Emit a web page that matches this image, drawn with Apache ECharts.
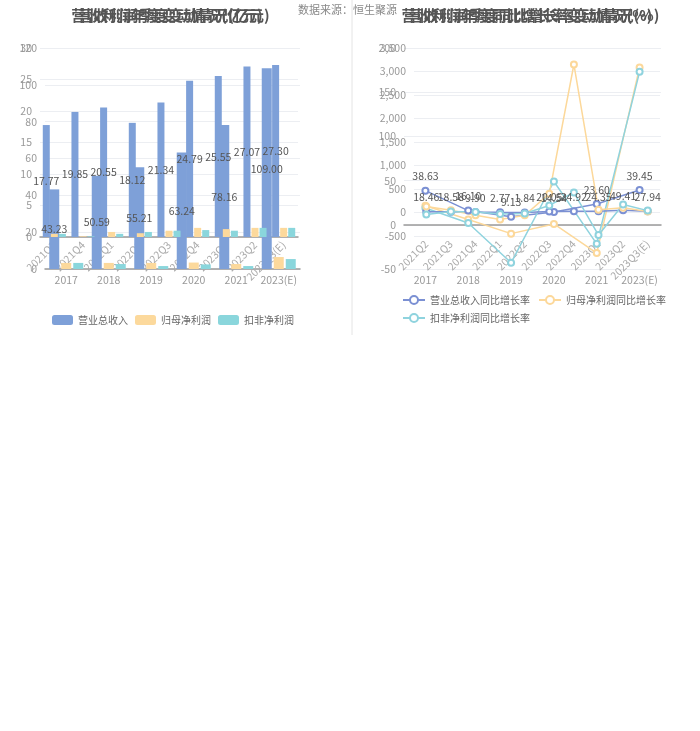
<!DOCTYPE html>
<html><head><meta charset="utf-8">
<script src="https://cdn.jsdelivr.net/npm/echarts@6/dist/echarts.min.js"></script>
<style>html,body{margin:0;padding:0;background:#fff}#c{width:700px;height:731px}</style>
</head><body><div id="c"></div>
<script>
// ---- data ----
const yearCats = ['2017','2018','2019','2020','2021','2023(E)'];
const quarterCats = ['2021Q3','2021Q4','2022Q1','2022Q2','2022Q3','2022Q4','2023Q1','2023Q2','2023Q3(E)'];
const growthQuarterCats = ['2021Q2','2021Q3','2021Q4','2022Q1','2022Q2','2022Q3','2022Q4','2023Q1','2023Q2','2023Q3(E)'];

const yearRevenue = [43.23, 50.59, 55.21, 63.24, 78.16, 109.00];
const yearNetProfit = [3.3, 3.3, 3.3, 3.5, 2.7, 6.5];
const yearDeductProfit = [3.3, 2.7, 1.6, 2.5, 1.6, 5.4];

const quarterRevenue = [17.77, 19.85, 20.55, 18.12, 21.34, 24.79, 25.55, 27.07, 27.30];
const quarterNetProfit = [0.5, 0.1, 0.8, 0.6, 1.0, 1.45, 1.25, 1.45, 1.45];
const quarterDeductProfit = [0.5, 0.1, 0.5, 0.8, 1.0, 1.1, 1.0, 1.45, 1.45];

const yearRevenueGrowth = [38.63, 16.10, 9.13, 14.54, 23.60, 39.45];
const yearNetGrowth = [21.5, 6, -10, 1, -32, 178];
const yearDeductGrowth = [19, 2, -43, 49, -21.5, 173];

const quarterRevenueGrowth = [18.46, 18.58, 9.90, 2.77, 1.84, 20.05, 24.92, 24.35, 49.41, 27.94];
const quarterNetGrowth = [130, 50, -60, -150, -60, 400, 3149, 60, 100, 20];
const quarterDeductGrowth = [-40, 20, 10, -30, -20, 150, 425, -480, 170, 40];

const yTicksYearBar = {min: 0, max: 120, interval: 20};
const yTicksQuarterBar = {min: 0, max: 30, interval: 5};
const yTicksYearLine = {min: -50, max: 200, interval: 50};
const yTicksQuarterLine = {min: -500, max: 3500, interval: 500};

// ---- styles ----
const C_BLUE = '#7ea0d8', C_ORANGE = '#fcd99c', C_TEAL = '#8ad6dc';
const L_BLUE = '#7b90d3', L_ORANGE = '#fcd89a', L_TEAL = '#8fd3de';
const FONT = '"Noto Sans CJK SC", "Noto Sans", sans-serif';
const fmt2 = p => Number(p.value).toFixed(2);
const FS = 10.5;

const chart = echarts.init(document.getElementById('c'), null, {renderer: 'canvas'});

function yAx(gi, t) {
  return {type: 'value', gridIndex: gi, min: t.min, max: t.max, interval: t.interval,
    axisLabel: {color: '#999', fontSize: FS, fontFamily: FONT},
    axisLine: {show: false}, axisTick: {show: false},
    splitLine: {lineStyle: {color: '#eceef2'}}};
}
const axLine = {lineStyle: {color: '#9a9a9a', width: 1.5}};
const titleStyle = {fontSize: 15, fontWeight: 'bold', color: '#555', fontFamily: FONT};

const option = {
  animation: false,
  textStyle: {fontFamily: FONT},
  title: [
    {text: '营收利润年度变动情况(亿元)', left: 162, textAlign: 'center', top: 3, textStyle: titleStyle},
    {text: '营收利润季度变动情况(亿元)', left: 169, textAlign: 'center', top: 3, textStyle: titleStyle},
    {text: '营收利润年度同比增长率变动情况(%)', left: 522, textAlign: 'center', top: 3, textStyle: titleStyle},
    {text: '营收利润季度同比增长率变动情况(%)', left: 529, textAlign: 'center', top: 3, textStyle: titleStyle}
  ],
  graphic: [
    {type: 'line', shape: {x1: 352, y1: 0, x2: 352, y2: 335}, style: {stroke: '#e4e4e4', lineWidth: 1}},
    {type: 'text', left: 298, top: 4, z: -1, style: {text: '数据来源：恒生聚源', fill: '#888', font: '11px "Noto Sans CJK SC"'}}
  ],
  legend: [
    {data: ['营业总收入', '归母净利润', '扣非净利润'], left: 47, top: 310, itemWidth: 21, itemHeight: 10, itemGap: 7,
      textStyle: {color: '#666', fontSize: 10}},
    {data: ['营业总收入同比增长率', '归母净利润同比增长率', '扣非净利润同比增长率'], left: 397, top: 290, width: 270,
      itemWidth: 22, itemHeight: 10, itemGap: 8, textStyle: {color: '#666', fontSize: 10}}
  ],
  grid: [
    {left: 45, right: 400, top: 48, bottom: 462},
    {left: 40, right: 402, top: 48, bottom: 494},
    {left: 404, right: 39, top: 48, bottom: 462},
    {left: 414, right: 40, top: 48, bottom: 495}
  ],
  xAxis: [
    {type: 'category', gridIndex: 0, data: yearCats, axisLine: axLine, axisTick: {alignWithLabel: true, lineStyle: {color: '#9a9a9a'}},
      axisLabel: {color: '#999', fontSize: FS, margin: 6, interval: 0}},
    {type: 'category', gridIndex: 1, data: quarterCats, axisLine: axLine, axisTick: {show: false},
      axisLabel: {color: '#aaa', fontSize: FS, rotate: 45, margin: 6, interval: 0}},
    {type: 'category', gridIndex: 2, data: yearCats, axisLine: {onZero: true, lineStyle: {color: '#9a9a9a', width: 1.5}},
      axisTick: {alignWithLabel: true, lineStyle: {color: '#9a9a9a'}}, axisLabel: {show: false}},
    {type: 'category', gridIndex: 2, data: yearCats, position: 'bottom', axisLine: {show: false, onZero: false}, axisTick: {show: false},
      axisLabel: {color: '#999', fontSize: FS, margin: 6, interval: 0}},
    {type: 'category', gridIndex: 3, data: growthQuarterCats, position: 'bottom', axisLine: {show: false, onZero: false}, axisTick: {show: false},
      axisLabel: {color: '#aaa', fontSize: FS, rotate: 45, margin: 6, interval: 0}}
  ],
  yAxis: [yAx(0, yTicksYearBar), yAx(1, yTicksQuarterBar), yAx(2, yTicksYearLine), yAx(3, yTicksQuarterLine)],
  series: [
    {name: '营业总收入', type: 'bar', xAxisIndex: 0, yAxisIndex: 0, data: yearRevenue, barWidth: 10, barGap: '20%', itemStyle: {color: C_BLUE},
      label: {show: true, position: 'inside', color: '#555', fontSize: FS, formatter: fmt2}},
    {name: '归母净利润', type: 'bar', xAxisIndex: 0, yAxisIndex: 0, data: yearNetProfit, barWidth: 10, barGap: '20%', itemStyle: {color: C_ORANGE}},
    {name: '扣非净利润', type: 'bar', xAxisIndex: 0, yAxisIndex: 0, data: yearDeductProfit, barWidth: 10, barGap: '20%', itemStyle: {color: C_TEAL}},
    {name: '营业总收入', type: 'bar', xAxisIndex: 1, yAxisIndex: 1, data: quarterRevenue, barWidth: 7, barGap: '15%', itemStyle: {color: C_BLUE},
      label: {show: true, position: 'inside', color: '#555', fontSize: FS, formatter: fmt2}},
    {name: '归母净利润', type: 'bar', xAxisIndex: 1, yAxisIndex: 1, data: quarterNetProfit, barWidth: 7, barGap: '15%', itemStyle: {color: C_ORANGE}},
    {name: '扣非净利润', type: 'bar', xAxisIndex: 1, yAxisIndex: 1, data: quarterDeductProfit, barWidth: 7, barGap: '15%', itemStyle: {color: C_TEAL}},

    {name: '营业总收入同比增长率', type: 'line', xAxisIndex: 2, yAxisIndex: 2, data: yearRevenueGrowth, symbol: 'emptyCircle', symbolSize: 6,
      lineStyle: {width: 1.5, color: L_BLUE}, itemStyle: {color: L_BLUE},
      label: {show: true, position: 'top', color: '#555', fontSize: FS, formatter: fmt2}},
    {name: '归母净利润同比增长率', type: 'line', xAxisIndex: 2, yAxisIndex: 2, data: yearNetGrowth, symbol: 'emptyCircle', symbolSize: 6,
      lineStyle: {width: 1.5, color: L_ORANGE}, itemStyle: {color: L_ORANGE}},
    {name: '扣非净利润同比增长率', type: 'line', xAxisIndex: 2, yAxisIndex: 2, data: yearDeductGrowth, symbol: 'emptyCircle', symbolSize: 6,
      lineStyle: {width: 1.5, color: L_TEAL}, itemStyle: {color: L_TEAL}},
    {name: '营业总收入同比增长率', type: 'line', xAxisIndex: 4, yAxisIndex: 3, data: quarterRevenueGrowth, symbol: 'emptyCircle', symbolSize: 6,
      lineStyle: {width: 1.5, color: L_BLUE}, itemStyle: {color: L_BLUE},
      label: {show: true, position: 'top', color: '#555', fontSize: FS, formatter: fmt2}},
    {name: '归母净利润同比增长率', type: 'line', xAxisIndex: 4, yAxisIndex: 3, data: quarterNetGrowth, symbol: 'emptyCircle', symbolSize: 6,
      lineStyle: {width: 1.5, color: L_ORANGE}, itemStyle: {color: L_ORANGE}},
    {name: '扣非净利润同比增长率', type: 'line', xAxisIndex: 4, yAxisIndex: 3, data: quarterDeductGrowth, symbol: 'emptyCircle', symbolSize: 6,
      lineStyle: {width: 1.5, color: L_TEAL}, itemStyle: {color: L_TEAL}}
  ]
};
chart.setOption(option);
</script></body></html>
